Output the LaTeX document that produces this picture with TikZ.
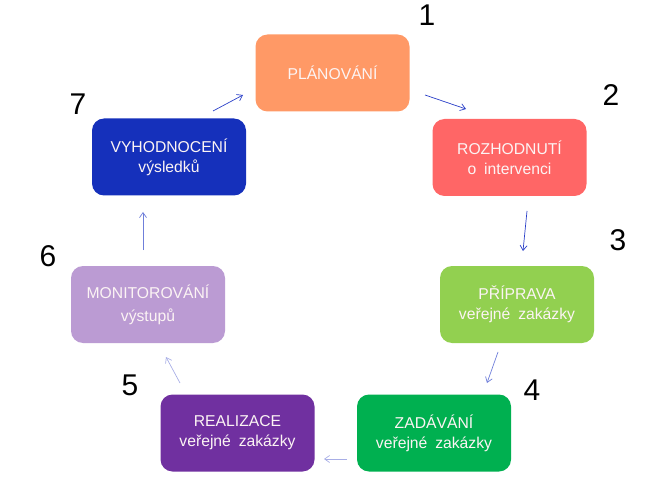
\documentclass[tikz,border=0pt]{standalone}
\usepackage{fontspec}
\setmainfont{Liberation Sans}
\usetikzlibrary{arrows.meta}
\definecolor{cPlan}{HTML}{FF9966}
\definecolor{cRoz}{HTML}{FF6666}
\definecolor{cPri}{HTML}{92D050}
\definecolor{cZad}{HTML}{00B050}
\definecolor{cReal}{HTML}{7030A0}
\definecolor{cMon}{HTML}{BB9BD3}
\definecolor{cVyh}{HTML}{1530BB}
\definecolor{txt}{HTML}{FCF4F4}
\definecolor{aDark}{HTML}{2A3FC8}
\definecolor{aMid}{HTML}{6F7FDA}
\definecolor{aLight}{HTML}{A8AEE6}
\tikzset{
  box/.style={rounded corners=12pt, minimum width=154pt, minimum height=77pt,
    inner sep=0pt, text=txt, align=center, font=\fontsize{15.7}{20}\selectfont},
  num/.style={font=\fontsize{30}{32}\selectfont, text=black, inner sep=0pt},
  conn/.style={-{Straight Barb[length=5pt,width=7pt]}, line width=0.7pt}
}
\begin{document}
\begin{tikzpicture}[x=1pt,y=-1pt]
\useasboundingbox (0,0) rectangle (661,481);
\node[box, fill=cPlan] (plan) at (332.5,73) {PLÁNOVÁNÍ};
\node[box, fill=cRoz] (roz) at (509.5,157.5) {ROZHODNUTÍ\\o\hspace{0.5em}intervenci};
\node[box, fill=cPri] (pri) at (517,304.5) {PŘÍPRAVA\\veřejné\hspace{0.5em}zakázky};
\node[box, fill=cZad] (zad) at (434,433) {ZADÁVÁNÍ\\veřejné\hspace{0.5em}zakázky};
\node[box, fill=cReal] (real) at (237.5,433) {REALIZACE\\veřejné\hspace{0.5em}zakázky};
\node[box, fill=cMon, font=\fontsize{15.7}{23}\selectfont] (mon) at (148,304.5) {MONITOROVÁNÍ\\výstupů};
\node[box, fill=cVyh] (vyh) at (169,157) {VYHODNOCENÍ\\výsledků};

\node[num] (n1) at (427,15) {1};
\node[num] (n2) at (611,95) {2};
\node[num] (n3) at (618,240) {3};
\node[num] (n4) at (532,390) {4};
\node[num] (n5) at (130,385) {5};
\node[num] (n6) at (48,256) {6};
\node[num] (n7) at (78,104) {7};

\coordinate (a1s) at (425,95);  \coordinate (a1e) at (466,109);
\coordinate (a2s) at (527,211); \coordinate (a2e) at (523,251);
\coordinate (a3s) at (498,352); \coordinate (a3e) at (487,383);
\coordinate (a4s) at (347,459); \coordinate (a4e) at (324,459);
\coordinate (a5s) at (180,383); \coordinate (a5e) at (166,357);
\coordinate (a6s) at (143,250); \coordinate (a6e) at (143,212);
\coordinate (a7s) at (213,111); \coordinate (a7e) at (243,95);

\draw[conn, aDark] (a1s) -- (a1e);
\draw[conn, aDark] (a2s) -- (a2e);
\draw[conn, aMid] (a3s) -- (a3e);
\draw[conn, aLight] (a4s) -- (a4e);
\draw[conn, aLight] (a5s) -- (a5e);
\draw[conn, aMid] (a6s) -- (a6e);
\draw[conn, aDark] (a7s) -- (a7e);
\end{tikzpicture}
\end{document}
